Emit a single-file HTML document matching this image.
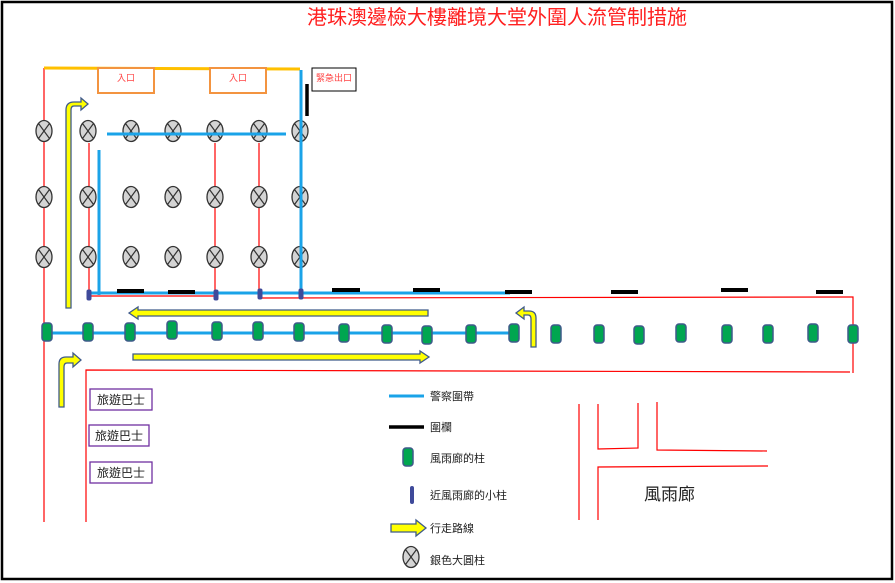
<!DOCTYPE html>
<html><head><meta charset="utf-8"><style>
html,body{margin:0;padding:0;background:#fff}
svg{display:block}
text{font-family:"Liberation Sans","Noto Sans CJK TC",sans-serif}
</style></head><body>
<svg width="895" height="583" viewBox="0 0 895 583" xmlns="http://www.w3.org/2000/svg">
<defs>
<g id="sp"><ellipse cx="0" cy="0" rx="8" ry="10.5" fill="#d4d4d4" stroke="#333" stroke-width="1.3"/><line x1="-5.5" y1="-7.5" x2="5.5" y2="7.5" stroke="#333" stroke-width="1.2"/><line x1="5.5" y1="-7.5" x2="-5.5" y2="7.5" stroke="#333" stroke-width="1.2"/></g>
<g id="gp"><rect x="-5" y="-9" width="10" height="18" rx="3" fill="#00a650" stroke="#3f5a8a" stroke-width="1.5"/></g>
<g id="np"><rect x="-2.5" y="-5.5" width="5" height="11" rx="2" fill="#3f4a9a"/></g>
</defs>
<rect x="2" y="2" width="890" height="577" fill="#fff" stroke="#000" stroke-width="2.5"/>
<text x="497" y="24" font-size="20" fill="#ff2020" text-anchor="middle">港珠澳邊檢大樓離境大堂外圍人流管制措施</text>
<g stroke="#f00" stroke-width="1.2" fill="none">
<line x1="44" y1="68" x2="44" y2="522"/>
<line x1="89" y1="143" x2="89" y2="295"/>
<line x1="215" y1="143" x2="215" y2="295"/>
<line x1="259" y1="143" x2="259" y2="298"/>
<line x1="89" y1="296" x2="216" y2="296"/>
<polyline points="260,298 850,297 853,297 853,373"/>
<polyline points="86,522 86,370 850,372"/>
<line x1="579" y1="404" x2="579" y2="520"/>
<polyline points="598,404 598,449 638,448 638,403"/>
<polyline points="657,402 657,450 767,451"/>
<polyline points="598,520 598,467 768,466"/>
</g>
<line x1="44" y1="68" x2="300" y2="69" stroke="#ffc000" stroke-width="3"/>
<rect x="98" y="68" width="56" height="25" fill="#fff" stroke="#f39440" stroke-width="2"/>
<text x="126" y="81" font-size="9" fill="#f44" text-anchor="middle">入口</text>
<rect x="210" y="68" width="56" height="25" fill="#fff" stroke="#f39440" stroke-width="2"/>
<text x="238" y="81" font-size="9" fill="#f44" text-anchor="middle">入口</text>
<rect x="312" y="68" width="44" height="23" fill="#fff" stroke="#000" stroke-width="1"/>
<text x="334" y="81" font-size="9" fill="#f44" text-anchor="middle">緊急出口</text>
<line x1="307" y1="84" x2="307" y2="116" stroke="#000" stroke-width="3.5"/>
<g>
<use href="#sp" x="44" y="131"/><use href="#sp" x="88" y="131"/><use href="#sp" x="131" y="131"/><use href="#sp" x="173" y="131"/><use href="#sp" x="215" y="131"/><use href="#sp" x="259" y="131"/><use href="#sp" x="300" y="131"/>
<use href="#sp" x="44" y="197"/><use href="#sp" x="88" y="197"/><use href="#sp" x="131" y="197"/><use href="#sp" x="173" y="197"/><use href="#sp" x="215" y="197"/><use href="#sp" x="259" y="197"/><use href="#sp" x="300" y="197"/>
<use href="#sp" x="44" y="257"/><use href="#sp" x="88" y="257"/><use href="#sp" x="131" y="257"/><use href="#sp" x="173" y="257"/><use href="#sp" x="215" y="257"/><use href="#sp" x="259" y="257"/><use href="#sp" x="300" y="257"/>
</g>
<g stroke="#1aa3e8" stroke-width="3" fill="none">
<line x1="107" y1="134" x2="286" y2="134"/>
<line x1="301" y1="70" x2="301" y2="293"/>
<line x1="99" y1="150" x2="99" y2="295"/>
<line x1="90" y1="293" x2="510" y2="293"/>
<line x1="46" y1="333" x2="513" y2="333"/>
</g>
<g stroke="#000" stroke-width="4">
<line x1="117" y1="291" x2="144" y2="291"/><line x1="168" y1="292" x2="195" y2="292"/><line x1="332" y1="290" x2="360" y2="290"/><line x1="413" y1="290" x2="440" y2="290"/><line x1="505" y1="292" x2="532" y2="292"/><line x1="611" y1="292" x2="638" y2="292"/><line x1="721" y1="290" x2="748" y2="290"/><line x1="816" y1="292" x2="843" y2="292"/>
</g>
<use href="#np" x="89" y="295"/><use href="#np" x="216" y="295"/><use href="#np" x="260" y="294"/><use href="#np" x="301" y="294"/>
<g>
<use href="#gp" x="47" y="332"/><use href="#gp" x="88" y="332"/><use href="#gp" x="130" y="332"/><use href="#gp" x="172" y="330"/><use href="#gp" x="217" y="331"/><use href="#gp" x="258" y="331"/><use href="#gp" x="299" y="332"/><use href="#gp" x="344" y="333"/><use href="#gp" x="387" y="334"/><use href="#gp" x="427" y="335"/>
<use href="#gp" x="471" y="334"/><use href="#gp" x="514" y="333"/><use href="#gp" x="556" y="334"/><use href="#gp" x="599" y="334"/><use href="#gp" x="639" y="335"/><use href="#gp" x="681" y="333"/><use href="#gp" x="727" y="334"/><use href="#gp" x="768" y="334"/><use href="#gp" x="813" y="333"/><use href="#gp" x="853" y="334"/>
</g>
<g fill="#ffff00" stroke="#3f5a8a" stroke-width="1.3">
<polygon points="129,313 138,307 138,310 428,310 428,316 138,316 138,319"/>
<polygon points="133,354 420,354 420,351 429,357 420,363 420,360 133,360"/>
<path d="M66,308 L66,110 Q66,102 74,102 L81,102 L81,98 L88,104 L81,110 L81,106 L74,106 Q71,106 71,110 L71,308 Z"/>
<path d="M59,407 L59,364 Q59,357 66,357 L73,357 L73,353 L81,360 L73,367 L73,363 L67,363 Q64,363 64,367 L64,407 Z"/>
<path d="M536,347 L536,318 Q536,311 529,311 L524,311 L524,307 L516,313 L524,319 L524,315 L528,315 Q531,315 531,319 L531,347 Z"/>
</g>
<g fill="#fff" stroke="#7030a0" stroke-width="1.3">
<rect x="90" y="389" width="62" height="21"/><rect x="89" y="425" width="60" height="21"/><rect x="90" y="462" width="62" height="21"/>
</g>
<g font-size="12" fill="#222" text-anchor="middle">
<text x="121" y="404">旅遊巴士</text><text x="119" y="440">旅遊巴士</text><text x="121" y="477">旅遊巴士</text>
</g>
<line x1="389" y1="396" x2="424" y2="396" stroke="#1aa3e8" stroke-width="3"/>
<line x1="389" y1="427" x2="424" y2="427" stroke="#000" stroke-width="3.5"/>
<use href="#gp" x="408" y="457"/>
<rect x="410" y="486" width="4" height="18" rx="2" fill="#3f4a9a"/>
<polygon points="391,524 416,524 416,520 426,528 416,536 416,532 391,532" fill="#ffff00" stroke="#3f5a8a" stroke-width="1.3"/>
<use href="#sp" x="411" y="557"/>
<g font-size="11" fill="#222">
<text x="430" y="400">警察圍帶</text><text x="430" y="431">圍欄</text><text x="430" y="462">風雨廊的柱</text><text x="430" y="499">近風雨廊的小柱</text><text x="430" y="532">行走路線</text><text x="430" y="564">銀色大圓柱</text>
</g>
<text x="644" y="500" font-size="17" fill="#222">風雨廊</text>
</svg>
</body></html>
